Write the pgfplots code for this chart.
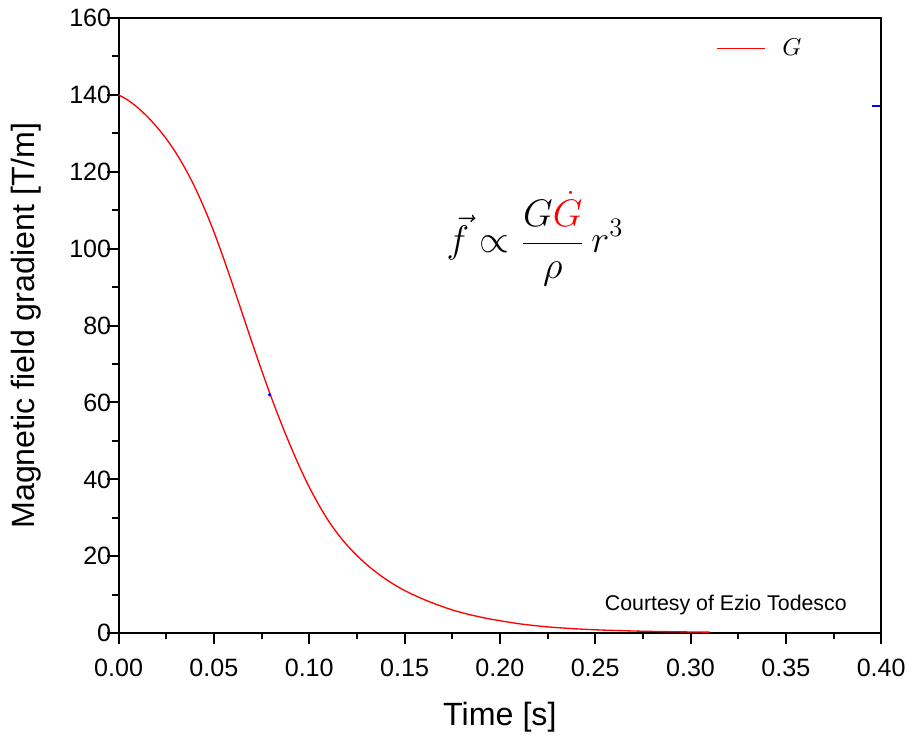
\documentclass[border=0pt]{standalone}
\usepackage{fontspec}
\setmainfont{Liberation Sans}
\usepackage{pgfplots}
\pgfplotsset{compat=1.18}

\begin{document}
\begin{tikzpicture}
\begin{axis}[
    name=ax,
    scale only axis,
    width=343.5pt, height=277.1pt,
    xmin=0, xmax=0.4, ymin=0, ymax=160,
    xtick={0,0.05,...,0.4}, ytick={0,20,...,160},
    minor x tick num=1, minor y tick num=1,
    tick align=outside, tick pos=left,
    major tick length=5pt, minor tick length=2.8pt,
    axis line style={line width=0.9pt},
    every tick/.style={black, line width=0.9pt},
    xticklabel style={/pgf/number format/.cd, fixed, fixed zerofill, precision=2},
    /pgf/number format/assume math mode=true,
    tick label style={font=\fontsize{11.3}{13}\selectfont},
    xticklabel shift=3pt,
    yticklabel shift=-5.2pt,
    label style={font=\fontsize{14.5}{17}\selectfont},
    xlabel={Time [s]},
    ylabel={Magnetic field gradient [T/m]},
    xlabel style={yshift=-4.5pt},
    ylabel style={yshift=6pt},
    legend style={at={(0.775,0.95)}, anchor=west, draw=none, fill=none,
        font=\fontsize{11}{13}\selectfont},
    legend image code/.code={\draw[#1] (0cm,0cm) -- (0.75cm,0cm); \path (0.95cm,0cm);},
    clip=false,
]
\addplot[red, line width=0.6pt, smooth] coordinates {
    (0,140) (0.005,138.6) (0.010,136.7) (0.015,134.4) (0.02,131.7)
    (0.025,128.6) (0.03,125.0) (0.035,120.8) (0.04,116.0) (0.045,110.5)
    (0.05,104.4) (0.055,97.6) (0.06,90.4) (0.065,83.0) (0.07,75.6)
    (0.075,68.4) (0.08,61.5) (0.085,55.0) (0.09,48.9) (0.095,43.2)
    (0.10,38.0) (0.105,33.4) (0.11,29.3) (0.115,25.8) (0.12,22.8)
    (0.125,20.2) (0.13,17.9) (0.135,15.9) (0.14,14.1) (0.145,12.5)
    (0.15,11.1) (0.155,9.9) (0.16,8.8) (0.165,7.8) (0.17,6.9)
    (0.175,6.05) (0.18,5.35) (0.185,4.72) (0.19,4.18) (0.195,3.68)
    (0.20,3.25) (0.205,2.83) (0.21,2.46) (0.215,2.15) (0.22,1.88)
    (0.225,1.65) (0.23,1.45) (0.235,1.28) (0.24,1.13) (0.245,1.0)
    (0.25,0.89) (0.255,0.79) (0.26,0.71) (0.265,0.64) (0.27,0.57)
    (0.275,0.51) (0.28,0.46) (0.285,0.42) (0.29,0.38) (0.295,0.35)
    (0.30,0.32) (0.305,0.29) (0.31,0.27)
};
\addlegendentry{$G$}
% small blue marks seen on the original
\addplot[blue, line width=0.8pt, forget plot] coordinates {(0.3953,137.2) (0.3995,137.2)};
\addplot[blue, only marks, mark=*, mark size=0.5pt, forget plot] coordinates {(0.0792,62)};
\node[font=\fontsize{17}{20}\selectfont] at (axis cs:0.2185,102.5)
    {$\displaystyle \vec{f} \propto \frac{G\textcolor{red}{\dot{G}}}{\rho}\, r^{3}$};
\node[font=\fontsize{9.6}{11}\selectfont] at (axis cs:0.3185,7.3) {Courtesy of Ezio Todesco};
\end{axis}
\path (ax.south west) ++(-53.4pt,-45.3pt);
\path (ax.north east) ++(12.6pt,8.1pt);
\end{tikzpicture}
\end{document}
